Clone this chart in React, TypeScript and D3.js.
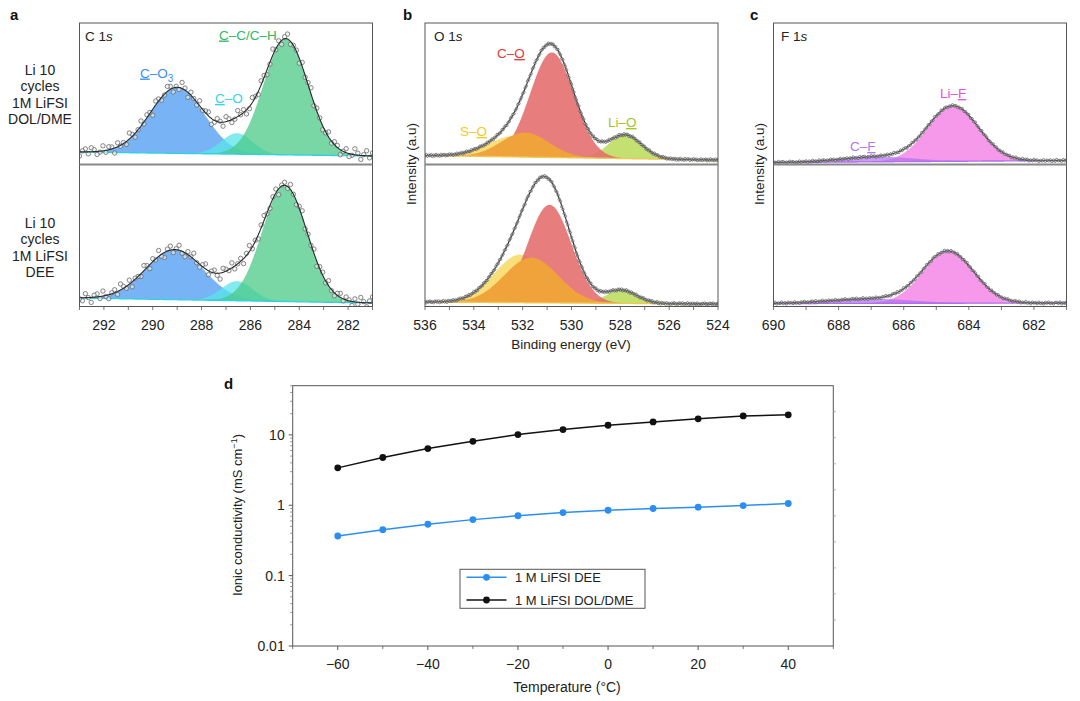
import React from 'react';
import * as d3 from 'd3';

const FONT = '"Liberation Sans", Arial, Helvetica, sans-serif';

// ---------------- Panel d data ----------------
const temperatureC = [-60, -50, -40, -30, -20, -10, 0, 10, 20, 30, 40];
const conductivityDEE = [0.366, 0.45, 0.537, 0.625, 0.71, 0.787, 0.849, 0.9, 0.94, 0.99, 1.06];
const conductivityDOLDME = [3.4, 4.77, 6.4, 8.1, 10.1, 11.9, 13.7, 15.3, 16.9, 18.6, 19.3];
const temperatureTicks = [-60, -40, -20, 0, 20, 40];
const temperatureMinorTicks = [-70, -50, -30, -10, 10, 30, 50];
const conductivityTicks = [0.01, 0.1, 1, 10];
const conductivityTickLabels = ['0.01', '0.1', '1', '10'];
const seriesNames = ['1 M LiFSI DEE', '1 M LiFSI DOL/DME'];

// ---------------- XPS axes ----------------
const c1sDomain = [293, 281];
const o1sDomain = [536, 524];
const f1sDomain = [690, 681];
const c1sTicks = [292, 290, 288, 286, 284, 282];
const o1sTicks = [536, 534, 532, 530, 528, 526, 524];
const f1sTicks = [690, 688, 686, 684, 682];

// ---------------- C 1s components: C–O3, C–O, C–C/C–H ----------------
const c1sCentersDOLDME = [289.0, 286.55, 284.55];
const c1sHeightsDOLDME = [66, 21, 116];
const c1sFwhmDOLDME = [2.6, 1.5, 2.15];
const c1sBgDOLDME = [2, -2];
const c1sCentersDEE = [289.1, 286.55, 284.6];
const c1sHeightsDEE = [50, 19.5, 116];
const c1sFwhmDEE = [2.8, 1.5, 2.15];
const c1sBgDEE = [2.5, -2.5];
const c1sInEnvelope = [true, true, true];
const c1sScatter = [3, -2, 5, 1, -4, 2, 6, -1, -3, 4, 0, -5, 2, 3, -2, 5, -1, -4, 1, 3, -3, 6, 2, -2, 4, -5, 1, 0, -3, 5, 2, -4, 3, -1, 6, -2, -5, 2, 4, -3, 1, 5, -2, -4, 3, 0, 6, -1, -3, 2, 5, -4, 1, 3, -2, -6, 4, 2, -1, 5, -3, 0, 3, -5, 2, 6, -2, 1, -4, 3, 5, -1, -3, 2, 4, -6, 1, 3, -2, 5, 0, -4, 2, 6, -3, 1, -1, 4, -5, 2, 3, -2, 5, -1, -3, 2, 4, -2, 3, 1, -4];

// ---------------- O 1s components: S–O, Li–O, C–O, S–O shoulder ----------------
const o1sCentersDOLDME = [532.3, 527.8, 530.8, 531.9];
const o1sHeightsDOLDME = [21, 23.5, 105, 24.5];
const o1sFwhmDOLDME = [2.6, 1.6, 2.1, 2.3];
const o1sBgDOLDME = [1.5, -3];
const o1sCentersDEE = [532.1, 527.95, 530.9, 531.65];
const o1sHeightsDEE = [48, 13, 98, 45];
const o1sFwhmDEE = [2.5, 1.5, 2.1, 2.6];
const o1sBgDEE = [1, -1];
const o1sInEnvelope = [true, true, true, false];

// ---------------- F 1s components: Li–F, C–F ----------------
const f1sCentersDOLDME = [684.48, 686.8];
const f1sHeightsDOLDME = [55, 5];
const f1sFwhmDOLDME = [1.85, 2.6];
const f1sBgDOLDME = [-0.5, 1.5];
const f1sCentersDEE = [684.63, 687.0];
const f1sHeightsDEE = [51.5, 4.5];
const f1sFwhmDEE = [1.85, 3.0];
const f1sBgDEE = [0, 0.5];
const f1sInEnvelope = [true, true];

const fineScatter = [0.6, -0.4, 0.9, -0.8, 0.2, -0.3, 1.0, -0.6, 0.4, -1.0, 0.7, -0.2, 0.3, -0.7, 0.8, -0.5, 0.1, -0.9, 0.5, -0.1, 0.9, -0.4, 0.2, -0.8, 0.6];

// ---------------- styles ----------------
const c1sStyle = {
  fills: ['#4b9bf2', '#58e4eb', '#4bca87'],
  opacities: [0.75, 0.75, 0.75],
  baseline: '#2fd2e2',
  dotR: 2.2, dotStroke: '#6a6a6a', dotFill: '#f2f2f2', dotFillOpacity: 0.6, dotStrokeW: 0.8, dotStep: 0.12, lineOnTop: true,
};
const o1sStyle = {
  fills: ['#f7dc6a', '#b4d84e', '#e56b6b', '#efa33a'],
  opacities: [0.9, 0.8, 0.88, 1],
  baseline: '#f0c850',
  dotR: 1.25, dotStroke: '#444', dotFill: '#ccc', dotFillOpacity: 0.5, dotStrokeW: 0.55, dotStep: 0.05, lineOnTop: false,
};
const f1sStyle = {
  fills: ['#f58ee8', '#b070f0'],
  opacities: [0.9, 0.7],
  baseline: '#b070f0',
  dotR: 1.25, dotStroke: '#444', dotFill: '#ccc', dotFillOpacity: 0.5, dotStrokeW: 0.55, dotStep: 0.05, lineOnTop: false,
};

const gauss = (e: number, c: number, h: number, w: number) => {
  const s = w / 2.3548;
  return h * Math.exp(-0.5 * ((e - c) / s) ** 2);
};

type SpecData = { centers: number[]; heights: number[]; fwhm: number[]; bg: number[]; inSum: boolean[] };

function Spectrum({ x, zeroY, top, bottom, d, s, scatter, flip, clipId }: any) {
  const dom = x.domain();
  const eA = dom[0], eB = dom[1];
  const lo = Math.min(eA, eB), hi = Math.max(eA, eB);
  const y = d3.scaleLinear().domain([0, 100]).range([zeroY, zeroY - 100]);
  const bgAt = (e: number) => d.bg[0] + (d.bg[1] - d.bg[0]) * (e - eA) / (eB - eA);
  const env = (e: number) =>
    bgAt(e) + d.centers.reduce((acc: number, c: number, i: number) => acc + (d.inSum[i] ? gauss(e, c, d.heights[i], d.fwhm[i]) : 0), 0);
  const grid = d3.range(lo, hi + 1e-9, 0.02);
  const areas = d.centers.map((c: number, i: number) =>
    d3.area<number>().x(e => x(e)).y0(e => y(bgAt(e))).y1(e => y(bgAt(e) + gauss(e, c, d.heights[i], d.fwhm[i])))(grid)
  );
  const baseline = d3.line<number>().x(e => x(e)).y(e => y(bgAt(e)))(grid);
  const envelope = d3.line<number>().x(e => x(e)).y(e => y(env(e)))(grid);
  const dotsE = d3.range(lo, hi + 1e-9, s.dotStep);
  const n = scatter.length;
  const dots = dotsE.map((e: number, i: number) => {
    const r = flip ? scatter[(n - 1 - (i % n) + 7) % n] : scatter[i % n];
    return [x(e), y(env(e) + r)];
  });
  const line = <path d={envelope || ''} fill="none" stroke="#2a2a2a" strokeWidth={1.1} />;
  return (
    <g>
      <clipPath id={clipId}>
        <rect x={Math.min(x.range()[0], x.range()[1])} y={top} width={Math.abs(x.range()[1] - x.range()[0])} height={bottom - top} />
      </clipPath>
      <g clipPath={`url(#${clipId})`}>
        {areas.map((a: any, i: number) => (
          <path key={i} d={a || ''} fill={s.fills[i]} fillOpacity={s.opacities[i]} stroke="none" />
        ))}
        <path d={baseline || ''} fill="none" stroke={s.baseline} strokeWidth={1.4} />
        {s.lineOnTop ? null : line}
        {dots.map((p: number[], i: number) => (
          <circle key={i} cx={p[0]} cy={p[1]} r={s.dotR} fill={s.dotFill} fillOpacity={s.dotFillOpacity} stroke={s.dotStroke} strokeWidth={s.dotStrokeW} />
        ))}
        {s.lineOnTop ? line : null}
      </g>
    </g>
  );
}

function XpsFrame({ x, ticks, top, mid, bottom }: any) {
  const [r0, r1] = x.range();
  const dom = x.domain();
  const lo = Math.min(dom[0], dom[1]), hi = Math.max(dom[0], dom[1]);
  const minor = d3.range(Math.ceil(lo), Math.floor(hi) + 1);
  return (
    <g>
      <rect x={r0} y={top} width={r1 - r0} height={bottom - top} fill="none" stroke="#555" strokeWidth={1} />
      <line x1={r0} x2={r1} y1={mid} y2={mid} stroke="#888" strokeWidth={2} />
      {minor.map((t: number) => (
        <line key={'m' + t} x1={x(t)} x2={x(t)} y1={bottom} y2={bottom + 3.5} stroke="#555" strokeWidth={0.8} />
      ))}
      {ticks.map((t: number) => (
        <text key={t} x={x(t)} y={bottom + 23} textAnchor="middle" fontSize={14} fill="#222">{t}</text>
      ))}
    </g>
  );
}

function U({ children }: any) {
  return <tspan textDecoration="underline">{children}</tspan>;
}

export default function App() {
  // ----- XPS scales -----
  const xA = d3.scaleLinear().domain(c1sDomain).range([79.5, 372.5]);
  const xB = d3.scaleLinear().domain(o1sDomain).range([425, 718]);
  const xC = d3.scaleLinear().domain(f1sDomain).range([773.5, 1066.5]);
  const top = 23, mid = 164.5, bot = 306.5;

  const c1sTop: SpecData = { centers: c1sCentersDOLDME, heights: c1sHeightsDOLDME, fwhm: c1sFwhmDOLDME, bg: c1sBgDOLDME, inSum: c1sInEnvelope };
  const c1sBot: SpecData = { centers: c1sCentersDEE, heights: c1sHeightsDEE, fwhm: c1sFwhmDEE, bg: c1sBgDEE, inSum: c1sInEnvelope };
  const o1sTop: SpecData = { centers: o1sCentersDOLDME, heights: o1sHeightsDOLDME, fwhm: o1sFwhmDOLDME, bg: o1sBgDOLDME, inSum: o1sInEnvelope };
  const o1sBot: SpecData = { centers: o1sCentersDEE, heights: o1sHeightsDEE, fwhm: o1sFwhmDEE, bg: o1sBgDEE, inSum: o1sInEnvelope };
  const f1sTop: SpecData = { centers: f1sCentersDOLDME, heights: f1sHeightsDOLDME, fwhm: f1sFwhmDOLDME, bg: f1sBgDOLDME, inSum: f1sInEnvelope };
  const f1sBot: SpecData = { centers: f1sCentersDEE, heights: f1sHeightsDEE, fwhm: f1sFwhmDEE, bg: f1sBgDEE, inSum: f1sInEnvelope };

  // ----- Panel d scales -----
  const dL = 292.7, dR = 833.3, dT = 385.7, dB = 646;
  const xT = d3.scaleLinear().domain([-70, 50]).range([dL, dR]);
  const yS = d3.scaleLog().domain([0.01, 50]).range([dB, dT]);
  const yRight = d3.scaleLinear().domain([0, 10]).range([dB, dT]);
  const minorLog: number[] = [];
  [0.01, 0.1, 1, 10].forEach(dec => {
    for (let k = 2; k <= 9; k++) { const v = dec * k; if (v <= 50) minorLog.push(v); }
  });
  const lineGen = d3.line<number>().x((_, i) => xT(temperatureC[i])).y(v => yS(v));
  const series = [
    { name: seriesNames[0], values: conductivityDEE, color: '#2b8ef2' },
    { name: seriesNames[1], values: conductivityDOLDME, color: '#111' },
  ];
  const legX = 460, legY = 569.3, legW = 185, legH = 39;

  const rowLabel = (lines: string[], cy: number) => (
    <text x={40} textAnchor="middle" fontSize={14} fill="#222">
      {lines.map((l, i) => (
        <tspan key={i} x={40} y={cy + (i - (lines.length - 1) / 2) * 16.3 + 5}>{l}</tspan>
      ))}
    </text>
  );

  return (
    <svg width={1080} height={701} style={{ position: 'absolute', left: 0, top: 0 }} fontFamily={FONT}>
      <rect width={1080} height={701} fill="#fff" />

      {/* ---------- Panel a ---------- */}
      <text x={10} y={20} fontSize={15} fontWeight="bold" fill="#111">a</text>
      <Spectrum x={xA} zeroY={154} top={top} bottom={mid} d={c1sTop} s={c1sStyle} scatter={c1sScatter} flip={false} clipId="ca1" />
      <Spectrum x={xA} zeroY={300.5} top={mid} bottom={bot} d={c1sBot} s={c1sStyle} scatter={c1sScatter} flip={true} clipId="ca2" />
      <XpsFrame x={xA} ticks={c1sTicks} top={top} mid={mid} bottom={bot} />
      <text x={85} y={40.5} fontSize={13.5} fill="#222">C 1<tspan fontStyle="italic">s</tspan></text>
      <text x={140} y={77.5} fontSize={13.5} fill="#3a8ef0"><U>C</U>–O<tspan dy={4} fontSize={10}>3</tspan></text>
      <text x={215} y={103} fontSize={13.5} fill="#33d6e6"><U>C</U>–O</text>
      <text x={219} y={39.5} fontSize={13.5} fill="#2fb866"><U>C</U>–C/C–H</text>
      {rowLabel(['Li 10', 'cycles', '1M LiFSI', 'DOL/DME'], 94.5)}
      {rowLabel(['Li 10', 'cycles', '1M LiFSI', 'DEE'], 247.5)}

      {/* ---------- Panel b ---------- */}
      <text x={403} y={20} fontSize={15} fontWeight="bold" fill="#111">b</text>
      <Spectrum x={xB} zeroY={157} top={top} bottom={mid} d={o1sTop} s={o1sStyle} scatter={fineScatter} flip={false} clipId="cb1" />
      <Spectrum x={xB} zeroY={303} top={mid} bottom={bot} d={o1sBot} s={o1sStyle} scatter={fineScatter} flip={true} clipId="cb2" />
      <XpsFrame x={xB} ticks={o1sTicks} top={top} mid={mid} bottom={bot} />
      <text x={434} y={40.5} fontSize={13.5} fill="#222">O 1<tspan fontStyle="italic">s</tspan></text>
      <text x={497} y={58} fontSize={13.5} fill="#e8383a">C–<U>O</U></text>
      <text x={460} y={136} fontSize={13.5} fill="#f2cc1c">S–<U>O</U></text>
      <text x={608} y={127} fontSize={13.5} fill="#a2c62a">Li–<U>O</U></text>
      <text transform="translate(416,164) rotate(-90)" textAnchor="middle" fontSize={13.5} fill="#222">Intensity (a.u)</text>
      <text x={571} y={349} textAnchor="middle" fontSize={13.5} fill="#222">Binding energy (eV)</text>

      {/* ---------- Panel c ---------- */}
      <text x={750} y={20} fontSize={15} fontWeight="bold" fill="#111">c</text>
      <Spectrum x={xC} zeroY={162} top={top} bottom={mid} d={f1sTop} s={f1sStyle} scatter={fineScatter} flip={false} clipId="cc1" />
      <Spectrum x={xC} zeroY={303.5} top={mid} bottom={bot} d={f1sBot} s={f1sStyle} scatter={fineScatter} flip={true} clipId="cc2" />
      <XpsFrame x={xC} ticks={f1sTicks} top={top} mid={mid} bottom={bot} />
      <text x={781} y={40.5} fontSize={13.5} fill="#222">F 1<tspan fontStyle="italic">s</tspan></text>
      <text x={940} y={98} fontSize={13.5} fill="#e850d8">Li–<U>F</U></text>
      <text x={850} y={151} fontSize={13.5} fill="#b277f0">C–<U>F</U></text>
      <text transform="translate(764,164) rotate(-90)" textAnchor="middle" fontSize={13.5} fill="#222">Intensity (a.u)</text>

      {/* ---------- Panel d ---------- */}
      <text x={224} y={389} fontSize={15} fontWeight="bold" fill="#111">d</text>
      <rect x={dL} y={dT} width={dR - dL} height={dB - dT} fill="none" stroke="#555" strokeWidth={1} />
      {conductivityTicks.map((t, i) => (
        <g key={t}>
          <line x1={dL - 4} x2={dL} y1={yS(t)} y2={yS(t)} stroke="#555" />
          <text x={dL - 8} y={yS(t) + 5} textAnchor="end" fontSize={14} fill="#222">{conductivityTickLabels[i]}</text>
        </g>
      ))}
      {minorLog.map(t => (
        <line key={'ml' + t} x1={dL - 2.5} x2={dL} y1={yS(t)} y2={yS(t)} stroke="#777" strokeWidth={0.8} />
      ))}
      {yRight.ticks(10).filter(t => t > 0 && t < 10).map(t => (
        <line key={'r' + t} x1={dR} x2={dR + 2.5} y1={yRight(t)} y2={yRight(t)} stroke="#999" strokeWidth={0.8} />
      ))}
      {temperatureTicks.map(t => (
        <g key={t}>
          <line x1={xT(t)} x2={xT(t)} y1={dB} y2={dB + 4} stroke="#555" />
          <text x={xT(t)} y={dB + 23} textAnchor="middle" fontSize={14} fill="#222">{t < 0 ? '\u2212' + Math.abs(t) : t}</text>
        </g>
      ))}
      {temperatureMinorTicks.map(t => (
        <line key={'mt' + t} x1={xT(t)} x2={xT(t)} y1={dB} y2={dB + 3} stroke="#555" strokeWidth={0.8} />
      ))}
      {series.map(s => (
        <g key={s.name}>
          <path d={lineGen(s.values) || ''} fill="none" stroke={s.color} strokeWidth={1.5} />
          {s.values.map((v, i) => (
            <circle key={i} cx={xT(temperatureC[i])} cy={yS(v)} r={3.4} fill={s.color} />
          ))}
        </g>
      ))}
      <rect x={legX} y={legY} width={legW} height={legH} fill="#fff" stroke="#555" strokeWidth={1} />
      {series.map((s, i) => (
        <g key={'lg' + i}>
          <line x1={legX + 6.5} x2={legX + 46.5} y1={legY + 8 + i * 22.7} y2={legY + 8 + i * 22.7} stroke={s.color} strokeWidth={1.5} />
          <circle cx={legX + 26.5} cy={legY + 8 + i * 22.7} r={3.4} fill={s.color} />
          <text x={legX + 55} y={legY + 12.7 + i * 22.7} fontSize={13} fill="#222">{s.name}</text>
        </g>
      ))}
      <text transform="translate(242,515) rotate(-90)" textAnchor="middle" fontSize={13} fill="#222">
        Ionic conductivity (mS cm<tspan dy={-5} fontSize={9}>−1</tspan><tspan dy={5}>)</tspan>
      </text>
      <text x={567} y={692} textAnchor="middle" fontSize={14} fill="#222">Temperature (°C)</text>
    </svg>
  );
}
